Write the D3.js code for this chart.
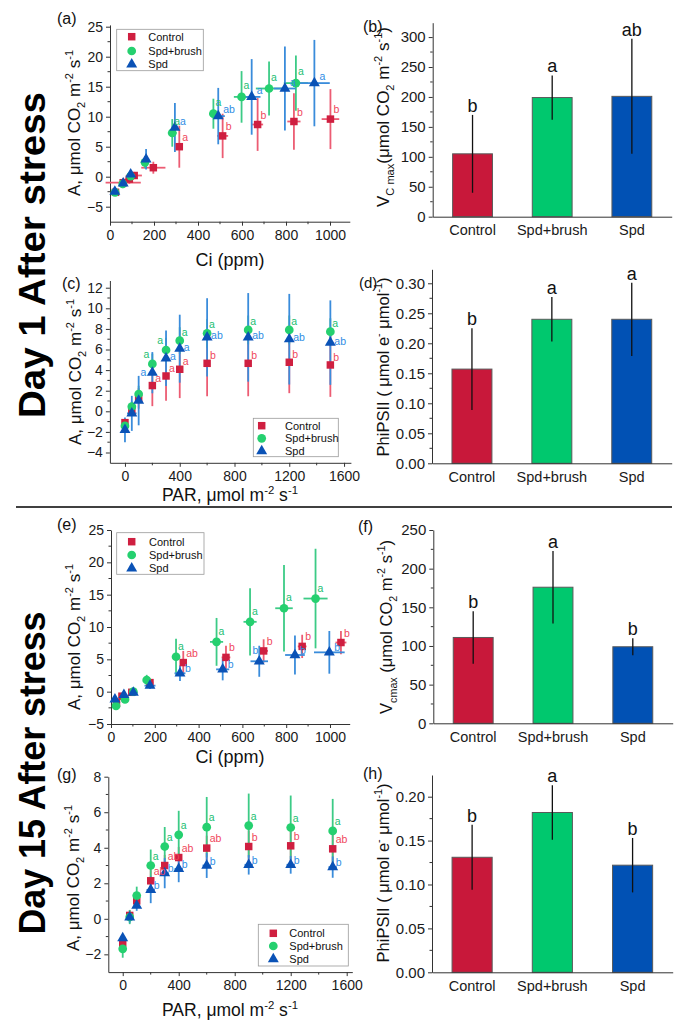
<!DOCTYPE html>
<html><head><meta charset="utf-8">
<script src="https://cdn.jsdelivr.net/npm/d3@7"></script>
<style>
body{margin:0;background:#fff;}
svg text{font-family:"Liberation Sans",Arial,Helvetica,sans-serif;}
</style></head><body>
<svg id="fig" width="687" height="1030"></svg>
<script>
// ---------------- DATA ----------------
const groups = ["Control", "Spd+brush", "Spd"];
const parLevels = [0, 50, 100, 200, 300, 400, 600, 900, 1200, 1500];

// (a) Day 1, A–Ci
const aCtrlCi    = [25, 60, 88, 110, 197, 315, 512, 671, 836, 1002];
const aCtrlA     = [-2.6, -1.0, -0.4, 0.2, 1.5, 5.0, 6.8, 8.7, 9.2, 9.6];
const aCtrlCiErr = [10, 80, 20, 35, 55, 15, 25, 25, 30, 40];
const aCtrlAErr  = [0.5, 0.8, 0.8, 0.6, 1.0, 3.5, 3.7, 4.4, 4.7, 5.0];
const aCtrlSig   = ["", "", "", "", "", "a", "b", "b", "b", "b"];
const aBrushCi    = [23, 58, 94, 159, 283, 470, 598, 723, 845];
const aBrushA     = [-2.6, -1.2, 0.1, 2.4, 7.3, 10.5, 13.3, 14.7, 15.6];
const aBrushCiErr = [8, 15, 15, 15, 20, 20, 35, 60, 55];
const aBrushAErr  = [0.5, 0.7, 0.6, 1.0, 2.3, 2.5, 4.3, 4.5, 4.6];
const aBrushSig   = ["", "", "", "", "a", "a", "a", "a", "a"];
const aSpdCi    = [22, 60, 94, 164, 295, 492, 644, 795, 929];
const aSpdA     = [-2.5, -1.1, 0.4, 2.9, 8.2, 10.1, 13.3, 14.7, 15.6];
const aSpdCiErr = [10, 12, 12, 12, 15, 30, 40, 50, 70];
const aSpdAErr  = [0.5, 0.6, 0.6, 1.7, 4.1, 4.7, 6.3, 7.0, 7.2];
const aSpdSig   = ["", "", "", "", "a", "ab", "a", "a", "a"];

// (b) Day 1, Vcmax
const bVals = [105, 199, 201];
const bErr  = [65, 37, 96];
const bSig  = ["b", "a", "ab"];

// (c) Day 1, A–PAR
const cCtrlA    = [-1.1, 0.13, 1.26, 2.5, 3.43, 4.08, 4.66, 4.66, 4.76, 4.5];
const cCtrlAErr = [0.3, 0.5, 1.0, 2.0, 2.4, 2.8, 3.2, 3.2, 3.0, 3.1];
const cCtrlSig  = ["", "", "", "a", "a", "a", "b", "b", "b", "b"];
const cBrushA    = [-1.42, 0.45, 1.68, 4.6, 5.95, 6.86, 7.57, 7.9, 7.9, 7.73];
const cBrushAErr = [0.3, 0.5, 0.8, 1.0, 1.2, 1.3, 1.4, 1.4, 1.4, 1.3];
const cBrushSig  = ["", "", "", "a", "a", "a", "a", "a", "a", "a"];
const cSpdA      = [-1.81, -0.2, 1.04, 3.75, 5.15, 6.08, 7.18, 7.18, 7.0, 6.67];
const cSpdAErr   = [1.2, 1.7, 2.4, 2.0, 2.7, 3.3, 3.8, 4.3, 4.4, 4.1];
const cSpdParErr = [0, 35, 20, 0, 0, 0, 0, 0, 0, 0];
const cSpdSig    = ["", "", "", "a", "a", "a", "ab", "ab", "ab", "ab"];

// (d) Day 1, PhiPSII
const dVals = [0.157, 0.240, 0.240];
const dErr  = [0.068, 0.037, 0.061];
const dSig  = ["b", "a", "a"];

// (e) Day 15, A–Ci
const eCtrlCi    = [25, 50, 95, 178, 330, 525, 697, 873, 1050];
const eCtrlA     = [-1.8, -0.7, -0.1, 1.4, 4.5, 5.3, 6.3, 7.0, 7.6];
const eCtrlCiErr = [10, 12, 15, 15, 15, 20, 20, 20, 25];
const eCtrlAErr  = [0.5, 0.4, 0.4, 0.6, 1.8, 1.8, 1.8, 1.8, 1.8];
const eCtrlSig   = ["", "", "", "", "ab", "b", "b", "b", "b"];
const eBrushCi    = [23, 64, 102, 163, 297, 482, 635, 790, 934];
const eBrushA     = [-2.2, -1.2, 0.0, 1.8, 5.4, 7.7, 10.8, 12.9, 14.4];
const eBrushCiErr = [8, 10, 15, 15, 15, 30, 30, 40, 55];
const eBrushAErr  = [0.4, 0.4, 0.4, 0.8, 2.8, 3.7, 5.2, 6.7, 7.7];
const eBrushSig   = ["", "", "", "", "a", "a", "a", "a", "a"];
const eSpdCi    = [18, 59, 102, 178, 315, 510, 677, 840, 997];
const eSpdA     = [-1.2, -0.5, -0.15, 0.93, 2.84, 3.45, 4.7, 5.67, 6.08];
const eSpdCiErr = [10, 15, 20, 25, 25, 30, 40, 45, 70];
const eSpdAErr  = [0.3, 0.3, 0.3, 0.5, 1.2, 1.7, 2.4, 3.0, 3.3];
const eSpdSig   = ["", "", "", "", "b", "b", "b", "b", "b"];

// (f) Day 15, Vcmax
const fVals = [111, 176, 99];
const fErr  = [34, 47, 11];
const fSig  = ["b", "a", "b"];

// (g) Day 15, A–PAR
const gCtrlA    = [-1.37, 0.19, 1.01, 2.14, 3.0, 3.45, 3.98, 4.07, 4.11, 3.94];
const gCtrlAErr = [0.3, 0.3, 0.3, 0.6, 0.6, 0.6, 0.7, 0.9, 0.9, 0.9];
const gCtrlSig  = ["", "", "", "ab", "ab", "ab", "ab", "b", "b", "ab"];
const gBrushA    = [-1.69, 0.1, 1.31, 3.0, 4.07, 4.73, 5.16, 5.25, 5.14, 4.95];
const gBrushAErr = [0.5, 0.4, 0.5, 0.9, 1.1, 1.35, 1.7, 1.8, 1.8, 1.8];
const gBrushSig  = ["", "", "", "a", "a", "a", "a", "a", "a", "a"];
const gSpdA      = [-1.09, 0.08, 0.75, 1.63, 2.57, 2.81, 3.0, 3.04, 3.04, 2.91];
const gSpdAErr   = [0.2, 0.3, 0.3, 0.75, 0.85, 0.75, 0.7, 0.55, 0.5, 0.6];
const gSpdParErr = [0, 0, 20, 30, 30, 30, 30, 30, 30, 30];
const gSpdSig    = ["", "", "", "b", "b", "b", "b", "b", "b", "b"];

// (h) Day 15, PhiPSII
const hVals = [0.131, 0.182, 0.122];
const hErr  = [0.037, 0.031, 0.031];
const hSig  = ["b", "a", "b"];

const dayLabels = ["Day 1 After stress", "Day 15 After stress"];

// ---------------- STYLE ----------------
const FONT = '"Liberation Sans",Arial,Helvetica,sans-serif';
const markerColor = {"Control": "#CF1F40", "Spd+brush": "#25D06F", "Spd": "#0A52B6"};
const errColor    = {"Control": "#EC5C73", "Spd+brush": "#3CCB86", "Spd": "#3A8CDB"};
const sigColor    = {"Control": "#F0475C", "Spd+brush": "#22BE72", "Spd": "#2F8DE4"};
const barColor    = {"Control": "#C8183A", "Spd+brush": "#00C86E", "Spd": "#0151B4"};
const symType     = {"Control": d3.symbolSquare, "Spd+brush": d3.symbolCircle, "Spd": d3.symbolTriangle};
const symSize     = {"Control": 56, "Spd+brush": 60, "Spd": 52};
const AX = "#333";

const svg = d3.select("#fig");

function rich(textSel, parts, fs) {
  let shift = 0;
  parts.forEach(([t, m]) => {
    const target = m === "sub" ? fs * 0.3 : m === "sup" ? -fs * 0.42 : 0;
    textSel.append("tspan").attr("dy", target - shift)
      .attr("font-size", m === "n" ? fs : fs * 0.65).text(t);
    shift = target;
  });
}

function styleAxis(a, fs) {
  a.attr("font-family", FONT).attr("font-size", fs);
  a.select(".domain").attr("stroke", AX).attr("stroke-width", 1);
  a.selectAll(".tick line").attr("stroke", AX);
  a.selectAll(".tick text").attr("fill", "#1a1a1a");
}

function yAxis(g, y, x0, majors, minors, fmt, fs) {
  const a = g.append("g").attr("transform", `translate(${x0},0)`)
    .call(d3.axisLeft(y).tickValues(majors).tickFormat(fmt).tickSize(4).tickPadding(3).tickSizeOuter(0));
  styleAxis(a, fs);
  a.selectAll(".minor").data(minors).enter().append("line").attr("class", "minor")
    .attr("x1", 0).attr("x2", -2.5).attr("y1", d => y(d)).attr("y2", d => y(d)).attr("stroke", AX);
}

function xAxis(g, x, y0, majors, minors, fmt, fs, tsize, pad) {
  const a = g.append("g").attr("transform", `translate(0,${y0})`)
    .call(d3.axisBottom(x).tickValues(majors).tickFormat(fmt).tickSize(tsize).tickPadding(pad).tickSizeOuter(0));
  styleAxis(a, fs);
  a.selectAll(".minor").data(minors).enter().append("line").attr("class", "minor")
    .attr("y1", 0).attr("y2", 2.5).attr("x1", d => x(d)).attr("x2", d => x(d)).attr("stroke", AX);
}

function panelLabel(txt, x, y, fs) {
  svg.append("text").attr("x", x).attr("y", y).attr("font-size", fs || 16).attr("fill", "#111").text(txt);
}

function rotTitle(x, y, parts, fs) {
  const t = svg.append("text").attr("transform", `translate(${x},${y}) rotate(-90)`)
    .attr("text-anchor", "middle").attr("fill", "#111");
  rich(t, parts, fs);
}
function hTitle(x, y, parts, fs) {
  const t = svg.append("text").attr("x", x).attr("y", y).attr("text-anchor", "middle").attr("fill", "#111");
  rich(t, parts, fs);
}

const yTitleA = [["A, μmol CO", "n"], ["2", "sub"], [" m", "n"], ["-2", "sup"], [" s", "n"], ["-1", "sup"]];
const xTitlePAR = [["PAR, μmol m", "n"], ["-2", "sup"], [" s", "n"], ["-1", "sup"]];

// sig: offsets for letters placed right of a point; leftIdx/leftOff: letters placed left of a point
function scatterPanel(L, series, sig) {
  const x = d3.scaleLinear().domain(L.xDom).range(L.xRange);
  const y = d3.scaleLinear().domain(L.yDom).range(L.yRange);
  const g = svg.append("g");
  yAxis(g, y, L.xRange[0], L.yMaj, L.yMin, d3.format("d"), 14);
  xAxis(g, x, L.yRange[0], L.xMaj, L.xMin, d3.format("d"), 14, 4, 4);

  series.forEach(s => {
    const eg = g.append("g").attr("stroke", errColor[s.name]).attr("stroke-width", 1.8);
    const idx = d3.range(s.x.length);
    eg.selectAll(".ve").data(idx.filter(i => s.ye[i] > 0)).enter().append("line")
      .attr("x1", i => x(s.x[i])).attr("x2", i => x(s.x[i]))
      .attr("y1", i => y(s.y[i] - s.ye[i])).attr("y2", i => y(s.y[i] + s.ye[i]));
    eg.selectAll(".he").data(idx.filter(i => s.xe && s.xe[i] > 0)).enter().append("line")
      .attr("y1", i => y(s.y[i])).attr("y2", i => y(s.y[i]))
      .attr("x1", i => x(s.x[i] - s.xe[i])).attr("x2", i => x(s.x[i] + s.xe[i]));
  });
  series.forEach(s => {
    const sym = d3.symbol().type(symType[s.name]).size(symSize[s.name]);
    g.append("g").selectAll("path").data(d3.range(s.x.length)).enter().append("path")
      .attr("d", sym).attr("fill", markerColor[s.name])
      .attr("transform", i => `translate(${x(s.x[i])},${y(s.y[i])})`);
  });
  series.forEach(s => {
    const [dx, dy] = sig.off[s.name];
    const left = (sig.leftIdx && sig.leftIdx[s.name]) || [];
    const [lx, ly] = (sig.leftOff && sig.leftOff[s.name]) || [0, 0];
    g.append("g").selectAll("text").data(d3.range(s.x.length).filter(i => s.sig[i])).enter().append("text")
      .attr("x", i => x(s.x[i]) + (left.includes(i) ? lx : dx))
      .attr("y", i => y(s.y[i]) + (left.includes(i) ? ly : dy))
      .attr("text-anchor", i => left.includes(i) ? "end" : "start")
      .attr("font-size", 10.5).attr("fill", sigColor[s.name]).text(i => s.sig[i]);
  });
  const lg = L.legend;
  g.append("rect").attr("x", lg.x).attr("y", lg.y).attr("width", lg.w).attr("height", lg.h)
    .attr("fill", "#fff").attr("stroke", "#9a9a9a").attr("stroke-width", 0.8);
  groups.forEach((n, k) => {
    const sym = d3.symbol().type(symType[n]).size(symSize[n]);
    g.append("path").attr("d", sym).attr("fill", markerColor[n])
      .attr("transform", `translate(${lg.sx},${lg.rows[k]})`);
    g.append("text").attr("x", lg.tx).attr("y", lg.rows[k]).attr("dy", "0.35em")
      .attr("font-size", 11).attr("fill", "#111").text(n);
  });
}

function barPanel(L, vals, errs, sigs, fmt) {
  const x = d3.scaleBand().domain(groups).range(L.xRange).paddingInner(0.5).paddingOuter(0.25);
  const y = d3.scaleLinear().domain(L.yDom).range(L.yRange);
  const g = svg.append("g");
  g.selectAll("rect.bar").data(groups).enter().append("rect").attr("class", "bar")
    .attr("x", d => x(d)).attr("width", x.bandwidth())
    .attr("y", (d, i) => y(vals[i])).attr("height", (d, i) => y(0) - y(vals[i]))
    .attr("fill", d => barColor[d]).attr("stroke", "#5a5a5a").attr("stroke-width", 1);
  g.selectAll("line.err").data(groups).enter().append("line").attr("class", "err")
    .attr("x1", d => x(d) + x.bandwidth() / 2).attr("x2", d => x(d) + x.bandwidth() / 2)
    .attr("y1", (d, i) => y(vals[i] - errs[i])).attr("y2", (d, i) => y(vals[i] + errs[i]))
    .attr("stroke", "#111").attr("stroke-width", 1.3);
  g.selectAll("text.sig").data(groups).enter().append("text").attr("class", "sig")
    .attr("x", d => x(d) + x.bandwidth() / 2).attr("y", (d, i) => y(vals[i] + errs[i]) - 3)
    .attr("text-anchor", "middle").attr("font-size", 18).attr("fill", "#111").text((d, i) => sigs[i]);
  yAxis(g, y, L.xRange[0], L.yMaj, L.yMin, fmt, 15);
  const a = g.append("g").attr("transform", `translate(0,${L.yRange[0]})`)
    .call(d3.axisBottom(x).tickSize(0).tickPadding(8).tickSizeOuter(0));
  styleAxis(a, 14.5);
}

// ---------------- LAYOUT & DRAW ----------------
const sigA = {off: {"Control": [3, -6], "Spd+brush": [2, -8], "Spd": [5, -3]}};
const sigC = {off: {"Control": [3, -4], "Spd+brush": [2, -5], "Spd": [4, 2]},
              leftIdx: {"Spd+brush": [3, 4], "Spd": [3]},
              leftOff: {"Spd+brush": [-3, -6], "Spd": [-6, 3]}};
const sigE = {off: {"Control": [3, -6], "Spd+brush": [2, -7], "Spd": [5, -1]},
              leftIdx: {"Spd": [6]}, leftOff: {"Spd": [-1, -7]}};
const sigG = {off: {"Control": [3, -6], "Spd+brush": [2, -6], "Spd": [3, -1]}};

// (a)
scatterPanel({
  xDom: [0, 1090], xRange: [110, 349.8], yDom: [-7.5, 25.3], yRange: [221.7, 24.9],
  xMaj: d3.range(0, 1001, 200), xMin: d3.range(100, 1090, 200),
  yMaj: d3.range(-5, 26, 5), yMin: d3.range(-2.5, 25, 5),
  legend: {x: 116.7, y: 29.3, w: 86.6, h: 41.4, rows: [36.7, 51, 64.3], sx: 131.7, tx: 148.3}
}, [
  {name: "Control", x: aCtrlCi, y: aCtrlA, xe: aCtrlCiErr, ye: aCtrlAErr, sig: aCtrlSig},
  {name: "Spd+brush", x: aBrushCi, y: aBrushA, xe: aBrushCiErr, ye: aBrushAErr, sig: aBrushSig},
  {name: "Spd", x: aSpdCi, y: aSpdA, xe: aSpdCiErr, ye: aSpdAErr, sig: aSpdSig}
], sigA);
rotTitle(80, 123, yTitleA, 17);
hTitle(230, 266, [["Ci (ppm)", "n"]], 18);
panelLabel("(a)", 57, 24);

// (c)
scatterPanel({
  xDom: [-110, 1650], xRange: [109.9, 350.9], yDom: [-5, 12.7], yRange: [462.8, 280.5],
  xMaj: [0, 400, 800, 1200, 1600], xMin: [200, 600, 1000, 1400],
  yMaj: d3.range(-4, 13, 2), yMin: d3.range(-3, 12, 2),
  legend: {x: 253.3, y: 418.3, w: 85, h: 38.4, rows: [425.7, 438.3, 451], sx: 261.7, tx: 285}
}, [
  {name: "Control", x: parLevels, y: cCtrlA, xe: null, ye: cCtrlAErr, sig: cCtrlSig},
  {name: "Spd+brush", x: parLevels, y: cBrushA, xe: null, ye: cBrushAErr, sig: cBrushSig},
  {name: "Spd", x: parLevels, y: cSpdA, xe: cSpdParErr, ye: cSpdAErr, sig: cSpdSig}
], sigC);
rotTitle(81, 372, yTitleA, 17);
hTitle(230, 501, xTitlePAR, 17.5);
panelLabel("(c)", 62, 289);

// (e)
scatterPanel({
  xDom: [0, 1090], xRange: [111, 349.7], yDom: [-5, 25], yRange: [724.0, 530.0],
  xMaj: d3.range(0, 1001, 200), xMin: d3.range(100, 1090, 200),
  yMaj: d3.range(-5, 26, 5), yMin: d3.range(-2.5, 25, 5),
  legend: {x: 116.7, y: 532.7, w: 87.3, h: 41.6, rows: [541.7, 555, 568.3], sx: 131.7, tx: 149}
}, [
  {name: "Control", x: eCtrlCi, y: eCtrlA, xe: eCtrlCiErr, ye: eCtrlAErr, sig: eCtrlSig},
  {name: "Spd+brush", x: eBrushCi, y: eBrushA, xe: eBrushCiErr, ye: eBrushAErr, sig: eBrushSig},
  {name: "Spd", x: eSpdCi, y: eSpdA, xe: eSpdCiErr, ye: eSpdAErr, sig: eSpdSig}
], sigE);
rotTitle(80, 637, yTitleA, 17);
hTitle(230, 763, [["Ci (ppm)", "n"]], 18);
panelLabel("(e)", 57, 530);

// (g)
scatterPanel({
  xDom: [-103, 1640], xRange: [108.3, 352.3], yDom: [-3, 8], yRange: [972.1, 776.7],
  xMaj: [0, 400, 800, 1200, 1600], xMin: [200, 600, 1000, 1400],
  yMaj: d3.range(-2, 9, 2), yMin: d3.range(-1, 8, 2),
  legend: {x: 258.3, y: 924.3, w: 90, h: 41.7, rows: [933.3, 946, 959], sx: 273.3, tx: 289.3}
}, [
  {name: "Control", x: parLevels, y: gCtrlA, xe: null, ye: gCtrlAErr, sig: gCtrlSig},
  {name: "Spd+brush", x: parLevels, y: gBrushA, xe: null, ye: gBrushAErr, sig: gBrushSig},
  {name: "Spd", x: parLevels, y: gSpdA, xe: gSpdParErr, ye: gSpdAErr, sig: gSpdSig}
], sigG);
rotTitle(79, 878, yTitleA, 17);
hTitle(230, 1016, xTitlePAR, 17.5);
panelLabel("(g)", 57, 780);

// bar panels
const f0 = d3.format("d"), f2 = d3.format(".2f");
barPanel({xRange: [432.7, 671.7], yDom: [0, 324], yRange: [216.7, 22.7],
  yMaj: d3.range(0, 301, 50), yMin: d3.range(25, 324, 50)}, bVals, bErr, bSig, f0);
rotTitle(389, 117, [["V", "n"], ["C max", "sub"], ["(μmol CO", "n"], ["2", "sub"], [" m", "n"], ["-2", "sup"], [" s", "n"], ["-1", "sup"], [")", "n"]], 17);
panelLabel("(b)", 363, 32);

barPanel({xRange: [432, 671.7], yDom: [0, 0.3233], yRange: [463.3, 269.3],
  yMaj: d3.range(0, 0.301, 0.05), yMin: d3.range(0.025, 0.32, 0.05)}, dVals, dErr, dSig, f2);
rotTitle(389, 367, [["PhiPSII ( μmol e", "n"], ["-", "sup"], [" μmol", "n"], ["-1", "sup"], [")", "n"]], 16.5);
panelLabel("(d)", 359, 288, 15);

barPanel({xRange: [433.3, 672.7], yDom: [0, 250], yRange: [723.3, 530],
  yMaj: d3.range(0, 251, 50), yMin: d3.range(25, 250, 50)}, fVals, fErr, fSig, f0);
rotTitle(392, 627, [["V", "n"], ["cmax", "sub"], [" (μmol CO", "n"], ["2", "sub"], [" m", "n"], ["-2", "sup"], [" s", "n"], ["-1", "sup"], [")", "n"]], 16.5);
panelLabel("(f)", 358, 532);

barPanel({xRange: [432, 672.7], yDom: [0, 0.2247], yRange: [972.3, 775],
  yMaj: d3.range(0, 0.201, 0.05), yMin: d3.range(0.025, 0.22, 0.05)}, hVals, hErr, hSig, f2);
rotTitle(389, 873, [["PhiPSII ( μmol e", "n"], ["-", "sup"], [" μmol", "n"], ["-1", "sup"], [")", "n"]], 16.5);
panelLabel("(h)", 363, 779);

// day labels & separator
[[255, dayLabels[0], 326], [773, dayLabels[1], 323]].forEach(([cy, txt, len]) => {
  svg.append("text").attr("transform", `translate(32,${cy}) rotate(-90)`)
    .attr("text-anchor", "middle").attr("dominant-baseline", "central")
    .attr("font-size", 36).attr("font-weight", "bold").attr("fill", "#000")
    .attr("textLength", len).attr("lengthAdjust", "spacingAndGlyphs").text(txt);
});
svg.append("line").attr("x1", 16).attr("x2", 672).attr("y1", 507).attr("y2", 507)
  .attr("stroke", "#000").attr("stroke-width", 1.5);
</script>
</body></html>
